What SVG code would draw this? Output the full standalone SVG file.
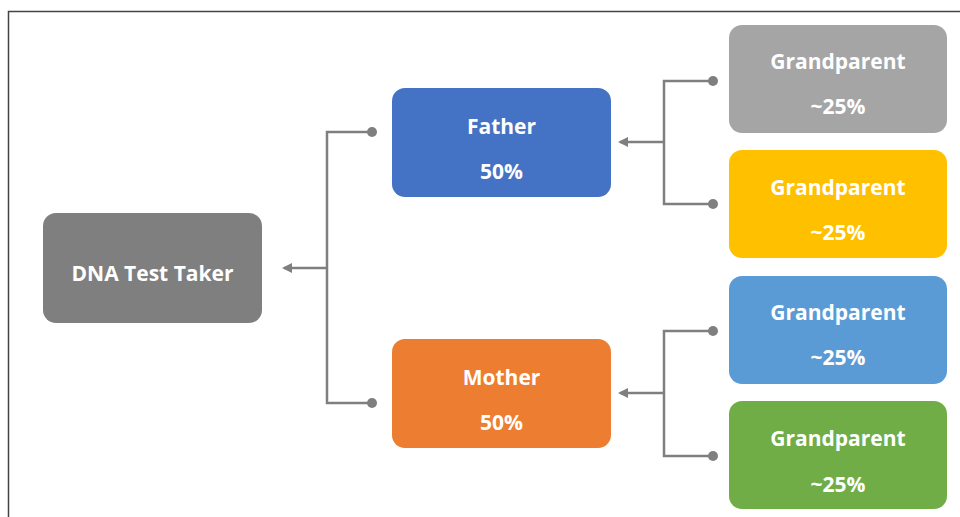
<svg xmlns="http://www.w3.org/2000/svg" width="960" height="517" viewBox="0 0 960 517">
<defs>
<style>
.box{stroke:none}
.t{font-family:"Open Sans","Liberation Sans",sans-serif;font-weight:bold;font-size:21px;fill:#ffffff;text-anchor:middle}
.c{fill:none;stroke:#7f7f7f;stroke-width:2.5}
.d{fill:#7f7f7f}
</style>
<marker id="ah" viewBox="0 0 10 10" refX="8" refY="5" markerWidth="4" markerHeight="4" orient="auto" markerUnits="strokeWidth">
<path d="M0,0 L10,5 L0,10 Z" fill="#7f7f7f"/>
</marker>
</defs>
<rect x="0" y="0" width="960" height="517" fill="#ffffff"/>
<path d="M8.5,517 V11.5 H960" fill="none" stroke="#444444" stroke-width="1.5"/>
<g id="connectors">
<path class="c" d="M372,132 H327 V403 H372"/>
<path class="c" d="M327,268 H284" marker-end="url(#ah)"/>
<circle class="d" cx="372" cy="132" r="5"/>
<circle class="d" cx="372" cy="403" r="5"/>
<path class="c" d="M713,81 H664 V204 H713"/>
<path class="c" d="M664,142 H620" marker-end="url(#ah)"/>
<circle class="d" cx="713" cy="81" r="5"/>
<circle class="d" cx="713" cy="204" r="5"/>
<path class="c" d="M713,331 H664 V456 H713"/>
<path class="c" d="M664,393 H620" marker-end="url(#ah)"/>
<circle class="d" cx="713" cy="331" r="5"/>
<circle class="d" cx="713" cy="456" r="5"/>
</g>
<g id="dna">
<rect class="box" x="43" y="213" width="219" height="110" rx="13" fill="#7f7f7f"/>
<text class="t" x="152.5" y="281">DNA Test Taker</text>
</g>
<g id="father">
<rect class="box" x="392" y="88" width="219" height="109" rx="13" fill="#4472c4"/>
<text class="t" x="501.5" y="134">Father</text>
<text class="t" x="501.5" y="179">50%</text>
</g>
<g id="mother">
<rect class="box" x="392" y="339" width="219" height="109" rx="13" fill="#ed7d31"/>
<text class="t" x="501.5" y="385">Mother</text>
<text class="t" x="501.5" y="430">50%</text>
</g>
<g id="gp1">
<rect class="box" x="729" y="25" width="218" height="108" rx="13" fill="#a5a5a5"/>
<text class="t" x="838" y="69">Grandparent</text>
<text class="t" x="838" y="114">~25%</text>
</g>
<g id="gp2">
<rect class="box" x="729" y="150" width="218" height="108" rx="13" fill="#ffc000"/>
<text class="t" x="838" y="195">Grandparent</text>
<text class="t" x="838" y="240">~25%</text>
</g>
<g id="gp3">
<rect class="box" x="729" y="276" width="218" height="108" rx="13" fill="#5b9bd5"/>
<text class="t" x="838" y="320">Grandparent</text>
<text class="t" x="838" y="365">~25%</text>
</g>
<g id="gp4">
<rect class="box" x="729" y="401" width="218" height="108" rx="13" fill="#70ad47"/>
<text class="t" x="838" y="446">Grandparent</text>
<text class="t" x="838" y="492">~25%</text>
</g>
</svg>
